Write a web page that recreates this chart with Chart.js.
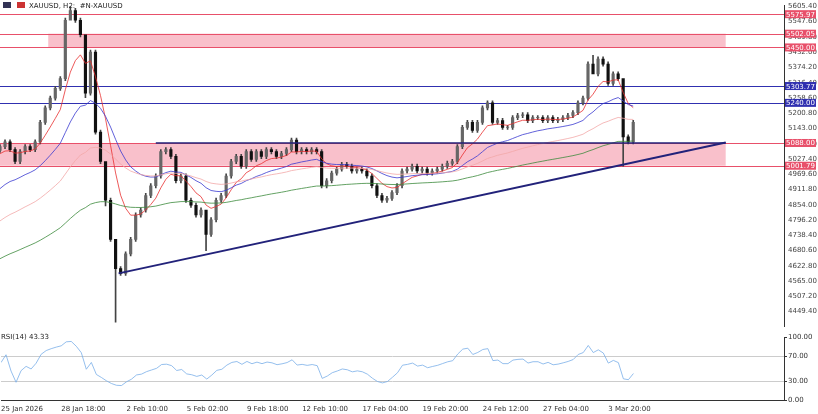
<!DOCTYPE html>
<html>
<head>
<meta charset="utf-8">
<script src="https://cdn.jsdelivr.net/npm/chart.js@4.4.1/dist/chart.umd.min.js"></script>
<style>
  body { margin: 0; background: #fff; font-family: "DejaVu Sans", sans-serif; }
  #wrap { position: relative; width: 818px; height: 414px; }
  #main { position: absolute; left: 0; top: 0; }
  #rsi { position: absolute; left: 0; top: 332px; }
  .lbl { position: absolute; font-size: 7px; color: #222; white-space: nowrap; }
</style>
</head>
<body>
<div id="wrap">
  <canvas id="main" width="818" height="332"></canvas>
  <canvas id="rsi" width="818" height="82"></canvas>
  <div class="lbl" style="left:3px;top:2px;"><span style="display:inline-block;width:8px;height:6px;background:#335;margin-right:6px"></span><span style="display:inline-block;width:8px;height:6px;background:#c33;margin-right:4px"></span>XAUUSD, H2: &nbsp;#N-XAUUSD</div>
  <div class="lbl" style="left:1px;top:333px;">RSI(14) 43.33</div>
</div>
<script>
// two-hour bars, one close per slot (open = previous close)
const closes = [
  5074, 5092, 5063, 5018, 5055, 5074, 5063, 5092, 5166, 5221, 5258, 5295, 5332,
  5553, 5590, 5553, 5498, 5277, 5432, 5129, 5018, 4871, 4723, 4612, 4594, 4668,
  4723, 4815, 4834, 4889, 4926, 4963, 5055, 5063, 5037, 4945, 4963, 4871, 4852,
  4815, 4834, 4742, 4797, 4871, 4889, 4963, 5018, 5037, 5000, 5055, 5026, 5055,
  5037, 5063, 5055, 5037, 5048, 5063, 5099, 5055, 5063, 5055, 5063, 5055, 4926,
  4945, 4974, 4989, 5007, 5000, 4982, 4989, 4982, 4963, 4926, 4889, 4871, 4878,
  4900, 4926, 4982, 4989, 5000, 4982, 4989, 4974, 4982, 4989, 5000, 5011, 5018,
  5074, 5147, 5166, 5136, 5166, 5221, 5240, 5166, 5173, 5147, 5147, 5184, 5192,
  5195, 5173, 5184, 5184, 5173, 5184, 5173, 5177, 5184, 5192, 5203, 5240, 5258,
  5387, 5350, 5406, 5387, 5314, 5350, 5332, 5111, 5092, 5166
];
// bars with long wicks: [index, low, high]
const longWicks = [[14, 5560, 5605], [23, 4409, 4640], [17, 5260, 5470], [21, 4850, 5000], [41, 4680, 4790], [124, 5000, 5130], [118, 5370, 5420]];
const firstClose = 5060;
const totalSlots = 157;

// horizontal levels [price, colour, label]
const levels = [
  [5575.97, "#e8506a", "5575.97"],
  [5502.05, "#e8506a", "5502.05"],
  [5450.00, "#e8506a", "5450.00"],
  [5303.77, "#3030b0", "5303.77"],
  [5240.00, "#3030b0", "5240.00"],
  [5088.00, "#e8506a", "5088.00"],
  [5001.79, "#e8506a", "5001.79"]
];
// shaded zones [low, high, startIndex]
const zones = [[5450.00, 5502.05, 9.6], [5001.79, 5088.00, 0]];
const zoneEnd = 144.4;
// trend line and resistance segment
const trendLine = [{ x: 23.6, y: 4594 }, { x: 144.4, y: 5090 }];
const resLine = [{ x: 31, y: 5088 }, { x: 144.4, y: 5088 }];

const priceTicks = [4449.4, 4507.2, 4565.0, 4622.8, 4680.6, 4738.4, 4796.2, 4854.0, 4911.8, 4969.6, 5027.4, 5085.2, 5143.0, 5200.8, 5258.6, 5316.4, 5374.2, 5432.0, 5489.8, 5547.6, 5605.4];
const timeLabels = { 0: "25 Jan 2026", 12: "28 Jan 18:00", 25: "2 Feb 10:00", 37: "5 Feb 02:00", 49: "9 Feb 18:00", 60: "12 Feb 10:00", 72: "17 Feb 04:00", 84: "19 Feb 20:00", 96: "24 Feb 12:00", 108: "27 Feb 04:00", 121: "3 Mar 20:00" };

// build OHLC
const opens = closes.map((c, i) => i === 0 ? firstClose : closes[i - 1]);
const highs = closes.map((c, i) => Math.max(c, opens[i]) + 8);
const lows = closes.map((c, i) => Math.min(c, opens[i]) - 8);
longWicks.forEach(([i, lo, hi]) => { lows[i] = lo; highs[i] = hi; });

function ema(arr, period, seed) {
  const k = 2 / (period + 1);
  let v = seed;
  return arr.map(x => (v = v + k * (x - v)));
}
const ema1 = ema(closes, 8, 5040);
const ema2 = ema(closes, 22, 4900);
const ema3 = ema(closes, 45, 4780);
const ema4 = ema(closes, 90, 4640);

function rsi(arr, period) {
  let ag = 3, al = 2;
  return arr.map((c, i) => {
    const d = i === 0 ? 0 : c - arr[i - 1];
    ag = (ag * (period - 1) + Math.max(d, 0)) / period;
    al = (al * (period - 1) + Math.max(-d, 0)) / period;
    return 100 - 100 / (1 + ag / (al || 0.01));
  });
}
const rsiVals = rsi(closes, 10);

const labels = Array.from({ length: totalSlots }, (_, i) => i);
const bodyColor = closes.map((c, i) => c >= opens[i] ? "#666" : "#111");

const fitRight = (s) => { s.width = 34; };

const zonePlugin = {
  id: "zones",
  beforeDatasetsDraw(chart) {
    const { ctx, scales: { x, y }, chartArea } = chart;
    ctx.save();
    zones.forEach(([lo, hi, st]) => {
      ctx.fillStyle = "rgba(244,140,160,0.55)";
      const x0 = x.getPixelForValue(st), x1 = x.getPixelForValue(zoneEnd);
      ctx.fillRect(x0, y.getPixelForValue(hi), x1 - x0, y.getPixelForValue(lo) - y.getPixelForValue(hi));
    });
    levels.forEach(([p, c]) => {
      ctx.strokeStyle = c; ctx.lineWidth = 1;
      const py = Math.round(y.getPixelForValue(p)) + 0.5;
      ctx.beginPath(); ctx.moveTo(chartArea.left, py); ctx.lineTo(chartArea.right, py); ctx.stroke();
    });
    ctx.restore();
  },
  afterDraw(chart) {
    const { ctx, scales: { y }, chartArea } = chart;
    ctx.save();
    ctx.font = "7px 'DejaVu Sans'";
    levels.forEach(([p, c, t]) => {
      const py = y.getPixelForValue(p);
      ctx.fillStyle = c;
      ctx.fillRect(chartArea.right + 1, py - 4, 31, 8);
      ctx.fillStyle = "#fff";
      ctx.fillText(t, chartArea.right + 2, py + 2.5);
    });
    ctx.restore();
  }
};

new Chart(document.getElementById("main"), {
  data: {
    labels,
    datasets: [
      { type: "line", data: trendLine, borderColor: "#22227a", borderWidth: 2, pointRadius: 0, parsing: false, order: 0 },
      { type: "line", data: resLine, borderColor: "#22227a", borderWidth: 1.5, pointRadius: 0, parsing: false, order: 0 },
      { type: "bar", data: closes.map((c, i) => [lows[i], highs[i]]), backgroundColor: "#444", barThickness: 1, grouped: false, order: 3 },
      { type: "bar", data: closes.map((c, i) => [opens[i], c === opens[i] ? c + 1 : c]), backgroundColor: bodyColor, barThickness: 2.5, grouped: false, order: 2 },
      { type: "line", data: ema4, borderColor: "#3c8a3c", borderWidth: 0.8, pointRadius: 0, order: 1 },
      { type: "line", data: ema3, borderColor: "#f2a8a8", borderWidth: 0.8, pointRadius: 0, order: 1 },
      { type: "line", data: ema2, borderColor: "#3a3ad0", borderWidth: 0.8, pointRadius: 0, order: 1 },
      { type: "line", data: ema1, borderColor: "#e83030", borderWidth: 0.8, pointRadius: 0, order: 1 }
    ]
  },
  options: {
    responsive: false, animation: false,
    layout: { padding: 0 },
    plugins: { legend: { display: false }, tooltip: { enabled: false } },
    scales: {
      x: { type: "category", offset: false, display: false, min: 0, max: totalSlots - 1 },
      y: {
        position: "right", min: 4391.6, max: 5610,
        afterFit: fitRight,
        afterBuildTicks: (s) => { s.ticks = priceTicks.map(v => ({ value: v })); },
        grid: { display: false, drawTicks: true, tickLength: 3, tickColor: "#333" },
        border: { color: "#333" },
        ticks: { font: { size: 7, family: "DejaVu Sans" }, color: "#444", padding: 1, callback: v => v.toFixed(2) }
      }
    }
  },
  plugins: [zonePlugin]
});

new Chart(document.getElementById("rsi"), {
  type: "line",
  data: {
    labels,
    datasets: [{ data: rsiVals, borderColor: "#7aaee8", borderWidth: 0.8, pointRadius: 0 }]
  },
  options: {
    responsive: false, animation: false,
    layout: { padding: { top: 4 } },
    plugins: { legend: { display: false }, tooltip: { enabled: false } },
    scales: {
      x: {
        type: "category", offset: false, min: 0, max: totalSlots - 1,
        grid: { display: false, drawTicks: true, tickLength: 3, tickColor: "#333" },
        border: { color: "#333" },
        afterBuildTicks: (s) => { s.ticks = Object.keys(timeLabels).map(k => ({ value: +k })); },
        ticks: { autoSkip: false, maxRotation: 0, align: "start", font: { size: 7, family: "DejaVu Sans" }, color: "#333", padding: 1,
          callback: (v) => timeLabels[v] || "" }
      },
      y: {
        position: "right", min: 0, max: 100,
        afterFit: fitRight,
        afterBuildTicks: (s) => { s.ticks = [0, 30, 70, 100].map(v => ({ value: v })); },
        grid: { color: (c) => (c.tick && (c.tick.value === 30 || c.tick.value === 70)) ? "#ccc" : "transparent", borderDash: [2, 2], tickLength: 3, tickColor: "#333" },
        border: { color: "#333" },
        ticks: { font: { size: 7, family: "DejaVu Sans" }, color: "#333", padding: 1, callback: v => v.toFixed(2) }
      }
    }
  }
});
</script>
</body>
</html>
